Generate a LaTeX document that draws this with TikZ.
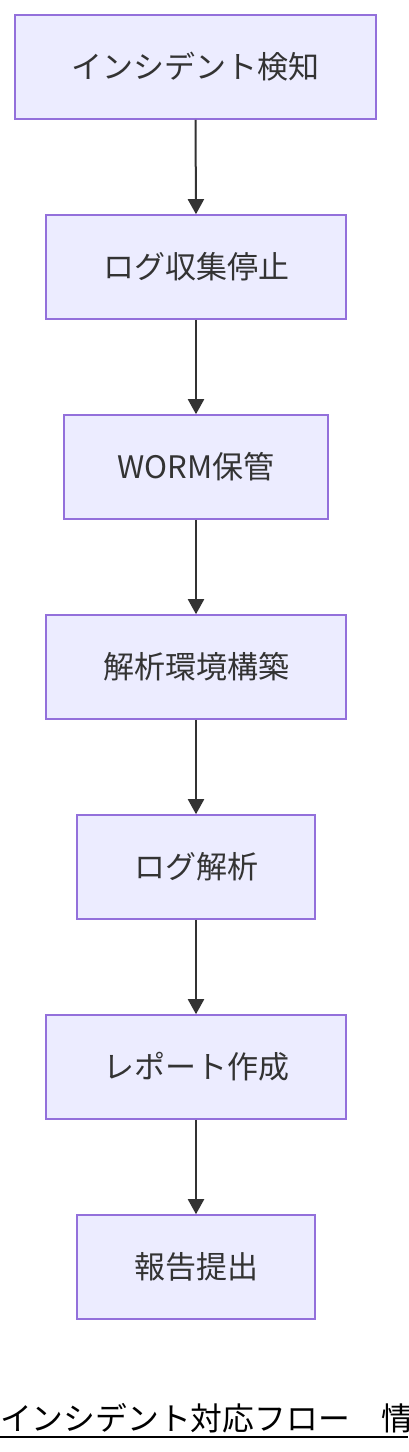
\documentclass[tikz,border=0pt]{standalone}
\usepackage{fontspec}
\newfontfamily\jp{Noto Sans CJK JP}
\usetikzlibrary{arrows.meta}
\definecolor{boxfill}{HTML}{ECECFF}
\definecolor{boxline}{HTML}{9370DB}
\definecolor{ink}{HTML}{333333}
\tikzset{
  stepbox/.style={draw=boxline, fill=boxfill, line width=1.6pt, minimum height=104pt,
    inner sep=0pt, font=\jp\fontsize{31}{36}\selectfont, text=ink},
  flow/.style={draw=ink, line width=2pt, -{Triangle[width=16pt,length=15pt]}}
}
\begin{document}
\begin{tikzpicture}[x=1pt,y=-1pt]
\useasboundingbox (0,0) rectangle (408,1452);
\fill[white] (0,0) rectangle (408,1452);
\node[stepbox, minimum width=361pt] (n1) at (195.5,67) {インシデント検知};
\node[stepbox, minimum width=300pt] (n2) at (196,267) {ログ収集停止};
\node[stepbox, minimum width=264pt] (n3) at (196,467) {WORM保管};
\node[stepbox, minimum width=300pt] (n4) at (196,667) {解析環境構築};
\node[stepbox, minimum width=238pt] (n5) at (196,867) {ログ解析};
\node[stepbox, minimum width=300pt] (n6) at (196,1067) {レポート作成};
\node[stepbox, minimum width=238pt] (n7) at (196,1267) {報告提出};
\draw[flow] (n1.south) -- (n2.north);
\draw[flow] (n2.south) -- (n3.north);
\draw[flow] (n3.south) -- (n4.north);
\draw[flow] (n4.south) -- (n5.north);
\draw[flow] (n5.south) -- (n6.north);
\draw[flow] (n6.south) -- (n7.north);
\begin{scope}
\clip (0,0) rectangle (408,1452);
\node[anchor=base west, inner sep=0pt, font=\jp\fontsize{31.8}{36}\selectfont, text=black] (title) at (0,1430) {インシデント対応フロー　情};
\coordinate (ulA) at (0,1437);
\coordinate (ulB) at (408,1437);
\draw[black, line width=2pt] (ulA) -- (ulB);
\end{scope}
\end{tikzpicture}
\end{document}
